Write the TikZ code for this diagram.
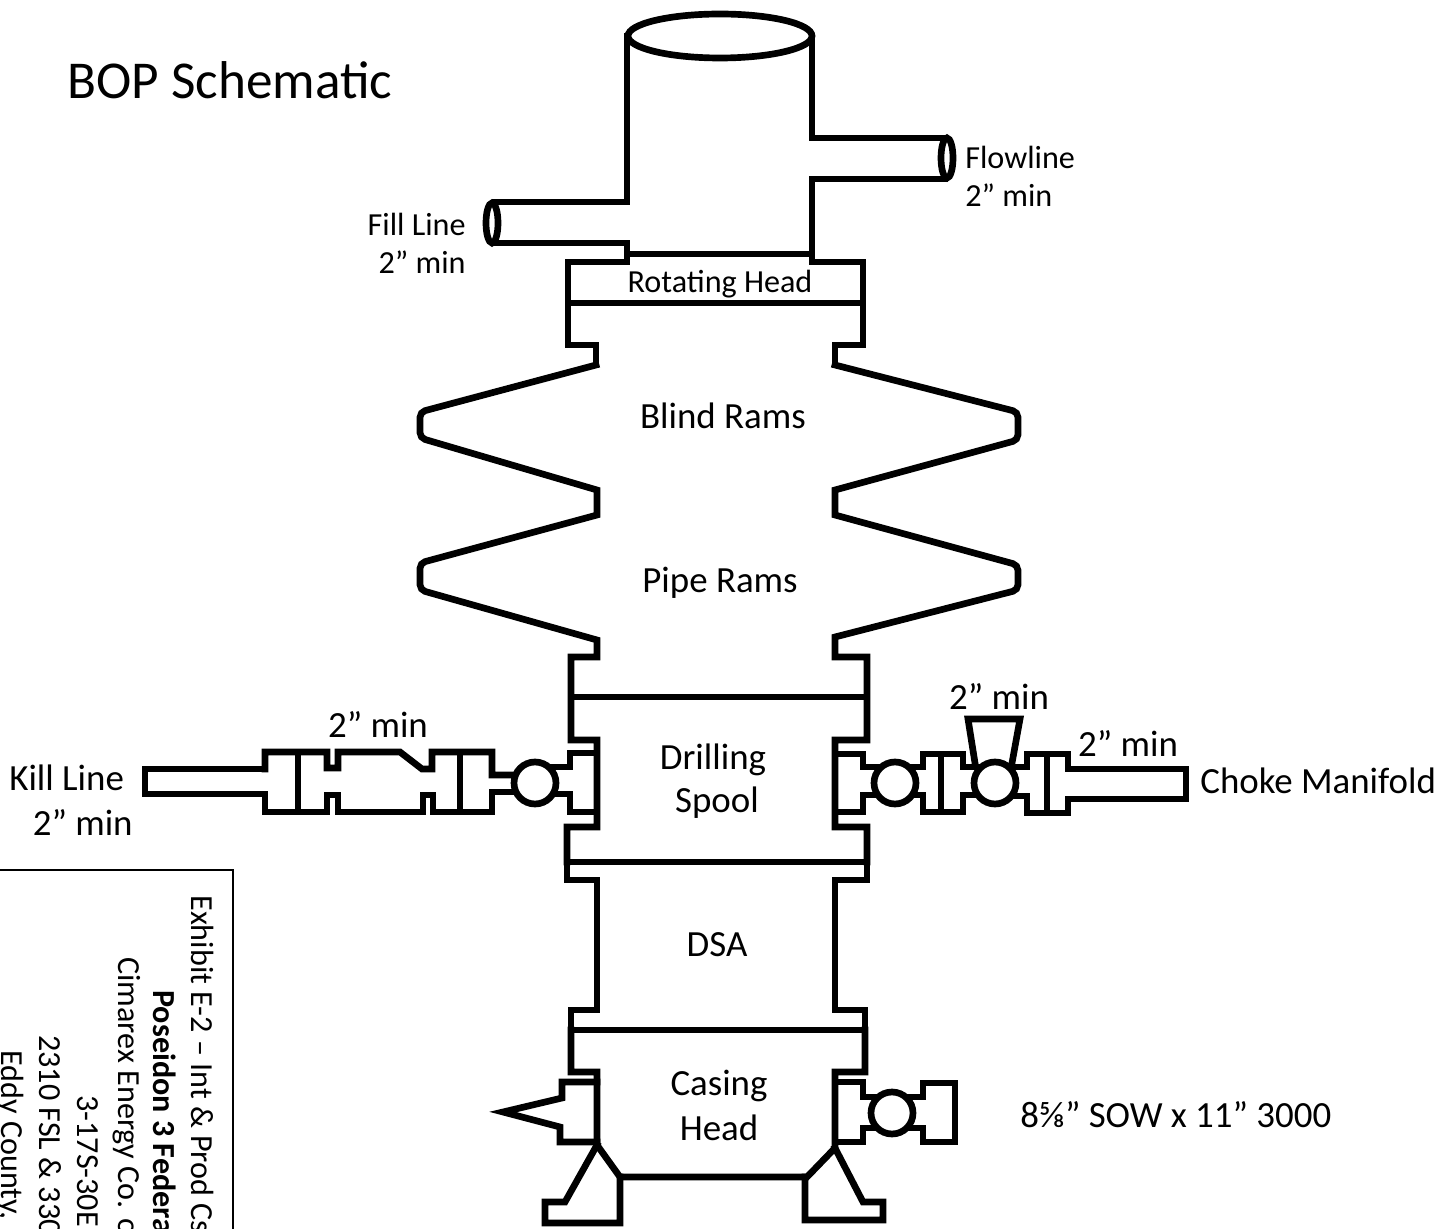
\documentclass[tikz,border=0pt]{standalone}
\usepackage{fontspec}
\setmainfont{Carlito}
\tikzset{
  bop/.style={line width=3.8pt, line join=miter, line cap=rect, black},
  valve/.style={bop, fill=white},
  big/.style={font=\fontsize{21}{24}\selectfont},
  small/.style={font=\fontsize{18.3}{20}\selectfont},
  boxtext/.style={font=\fontsize{18.3}{20}\selectfont, rotate=-90, anchor=west, inner sep=0pt}
}
\begin{document}
\begin{tikzpicture}[x=0.02cm, y=-0.02cm]
      \useasboundingbox (0, 0) rectangle (1451, 1229);
      % Title
      \node[font=\fontsize{30.3}{34}\selectfont, anchor=west, inner sep=0pt] (title) at (67, 80) {BOP Schematic};
      % Rotating head
      % - Cylinder
      \draw[bop] (720, 36) ellipse [x radius=92, y radius=22];
      \draw[bop] (627, 36) -- (627, 202) -- (495, 202);
      \draw[bop] (495, 243) -- (627, 243) -- (627, 262);
      \draw[bop] (812, 36) -- (812, 138) -- (945, 138);
      \draw[bop] (945, 179) -- (812, 179) -- (812, 262);
      \draw[bop] (627, 254) -- (812, 254);
      % - Pipe ends
      \draw[bop] (492, 223) ellipse [x radius=6, y radius=20];
      \draw[bop] (947, 158) ellipse [x radius=6, y radius=20];
      % - Flange
      \draw[bop] (596, 365) -- (596, 345) -- (568, 345) -- (568, 262) -- (627, 262);
      \draw[bop] (835, 365) -- (835, 345) -- (863, 345) -- (863, 262) -- (812, 262);
      \draw[bop] (568, 303) -- (863, 303);
      % Rams
      % - Left
      \draw[bop] (596, 365) [rounded corners=3pt] -- (420, 412) -- (420, 438) [sharp corners] -- (597, 490)
        -- (597, 515) [rounded corners=3pt] -- (420, 563) -- (420, 590) [sharp corners] -- (597, 640)
        -- (597, 657) -- (571, 657) -- (571, 740) -- (597, 740) -- (597, 827) -- (567, 827) -- (567, 862);
      % - Right
      \draw[bop] (835, 365) [rounded corners=3pt] -- (1018, 412) -- (1018, 440) [sharp corners] -- (835, 490)
        -- (835, 515) [rounded corners=3pt] -- (1018, 565) -- (1018, 590) [sharp corners] -- (835, 637)
        -- (835, 657) -- (867, 657) -- (867, 740) -- (835, 740) -- (835, 827) -- (867, 827) -- (867, 862);
      \draw[bop] (571, 697) -- (867, 697);
      % DSA
      \draw[bop] (567, 862) -- (867, 862);
      \draw[bop] (567, 862) -- (567, 880) -- (597, 880) -- (597, 1010) -- (571, 1010) -- (571, 1030);
      \draw[bop] (867, 862) -- (867, 880) -- (835, 880) -- (835, 1010) -- (865, 1010) -- (865, 1030);
      \draw[bop] (571, 1030) -- (865, 1030);
      % Kill line
      \draw[bop] (265, 769) -- (145, 769) -- (145, 794) -- (265, 794);
      \draw[bop] (265, 769) -- (265, 752) -- (327, 752) -- (327, 768) -- (338, 768) -- (338, 752)
        -- (400, 752) -- (422, 769) -- (432, 769) -- (432, 752) -- (492, 752) -- (492, 775) -- (520, 775);
      \draw[bop] (265, 794) -- (265, 812) -- (327, 812) -- (327, 795) -- (338, 795) -- (338, 812)
        -- (423, 812) -- (423, 795) -- (433, 795) -- (433, 812) -- (492, 812) -- (492, 792) -- (520, 792);
      \draw[bop] (298, 752) -- (298, 812);
      \draw[bop] (460, 752) -- (460, 812);
      \draw[bop] (550, 767) -- (570, 767) -- (570, 753) -- (597, 753);
      \draw[bop] (550, 794) -- (570, 794) -- (570, 812) -- (597, 812);
      \draw[valve] (535, 783) circle [radius=21];
      % Choke line
      \draw[bop] (835, 754) -- (863, 754) -- (863, 767) -- (880, 767);
      \draw[bop] (835, 812) -- (863, 812) -- (863, 795) -- (880, 795);
      \draw[bop] (910, 767) -- (923, 767) -- (923, 754) -- (963, 754) -- (963, 767) -- (980, 767);
      \draw[bop] (910, 795) -- (923, 795) -- (923, 812) -- (963, 812) -- (963, 795) -- (980, 795);
      \draw[bop] (941, 754) -- (941, 812);
      \draw[bop] (1010, 767) -- (1027, 767) -- (1027, 754) -- (1068, 754) -- (1068, 769) -- (1186, 769)
        -- (1186, 799) -- (1068, 799);
      \draw[bop] (1010, 796) -- (1027, 796) -- (1027, 813) -- (1068, 813) -- (1068, 799);
      \draw[bop] (1047, 754) -- (1047, 813);
      \draw[bop] (975, 763) -- (968, 719) -- (1020, 719) -- (1012, 763);
      \draw[valve] (895, 783) circle [radius=21];
      \draw[valve] (995, 783) circle [radius=21];
      % Casing head
      \draw[bop] (571, 1030) -- (571, 1072) -- (597, 1072) -- (597, 1145) -- (620, 1177) -- (807, 1177)
        -- (835, 1148) -- (835, 1072) -- (865, 1072) -- (865, 1030);
      % - Left outlet
      \draw[bop] (597, 1082) -- (562, 1082) -- (562, 1098) -- (503, 1112) -- (560, 1127) -- (560, 1142) -- (597, 1142);
      % - Right outlet
      \draw[bop] (835, 1082) -- (863, 1082) -- (863, 1097) -- (880, 1097);
      \draw[bop] (835, 1142) -- (863, 1142) -- (863, 1128) -- (880, 1128);
      \draw[bop] (905, 1097) -- (923, 1097) -- (923, 1083) -- (955, 1083) -- (955, 1142) -- (923, 1142)
        -- (923, 1128) -- (905, 1128);
      \draw[valve] (892, 1113) circle [radius=21];
      % - Feet
      \draw[bop] (597, 1145) -- (565, 1202) -- (545, 1202) -- (545, 1223) -- (620, 1223) -- (620, 1177);
      \draw[bop] (835, 1148) -- (863, 1202) -- (883, 1202) -- (883, 1220) -- (805, 1220) -- (805, 1177);
      % Labels
      \node[small, anchor=west, inner sep=0pt] (flowline) at (965, 157) {Flowline};
      \node[small, anchor=west, inner sep=0pt] (flowmin) at (965, 195) {2” min};
      \node[small, anchor=east, inner sep=0pt] (fillline) at (466, 224) {Fill Line};
      \node[small, anchor=east, inner sep=0pt] (fillmin) at (466, 262) {2” min};
      \node[small] (rotating) at (720, 284) {Rotating Head};
      \node[big] (blindrams) at (723, 416) {Blind Rams};
      \node[big] (piperams) at (720, 583) {Pipe Rams};
      \node[big] (drilling) at (713, 760) {Drilling};
      \node[big] (spool) at (717, 803) {Spool};
      \node[big] (dsa) at (717, 945) {DSA};
      \node[big] (casing) at (719, 1086) {Casing};
      \node[big] (head) at (719, 1128) {Head};
      \node[big, anchor=west, inner sep=0pt] (killline) at (9, 778) {Kill Line};
      \node[big, anchor=east, inner sep=0pt] (killmin) at (133, 822) {2” min};
      \node[big] (killtop) at (378, 724) {2” min};
      \node[big] (chokeup) at (999, 696) {2” min};
      \node[big] (chokeside) at (1128, 743) {2” min};
      \node[big, anchor=west, inner sep=0pt] (choke) at (1200, 781) {Choke Manifold};
      \node[big, anchor=west, inner sep=0pt] (sow) at (1020, 1115) {8⅝” SOW x 11” 3000};
      % Exhibit box
      \draw[line width=1.2pt] (0, 870) -- (233, 870) -- (233, 1229);
      \begin{scope}
        \clip (0, 870) rectangle (233, 1229);
        \node[boxtext] (exhibit) at (203, 895) {Exhibit E-2 – Int \& Prod Cs};
        \node[boxtext, font=\fontsize{18.3}{20}\selectfont\bfseries] (well) at (165, 990) {Poseidon 3 Federa};
        \node[boxtext] (company) at (127, 957) {Cimarex Energy Co. o};
        \node[boxtext] (section) at (88, 1095) {3-17S-30E};
        \node[boxtext] (footage) at (50, 1035) {2310 FSL \& 330};
        \node[boxtext] (county) at (10, 1050) {Eddy County,};
      \end{scope}
    \end{tikzpicture}
\end{document}
